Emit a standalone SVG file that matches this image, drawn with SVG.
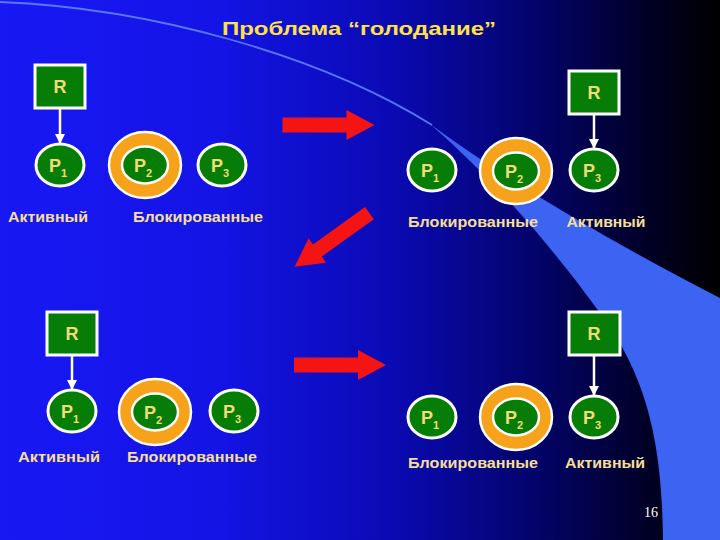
<svg xmlns="http://www.w3.org/2000/svg" width="720" height="540" viewBox="0 0 720 540">
<defs>
<linearGradient id="bg" x1="0" y1="0" x2="1" y2="0">
<stop offset="0" stop-color="#1818f4"/>
<stop offset="0.3" stop-color="#1414e6"/>
<stop offset="0.55" stop-color="#0a0ab2"/>
<stop offset="0.75" stop-color="#030368"/>
<stop offset="0.9" stop-color="#000026"/>
<stop offset="1" stop-color="#000000"/>
</linearGradient>
<marker id="ah" viewBox="0 0 10 10" refX="9" refY="5" markerWidth="4" markerHeight="4" orient="auto" markerUnits="strokeWidth">
<path d="M0,0 L10,5 L0,10 Z" fill="#ffffff"/>
</marker>
<polygon id="bigArrow" points="-46,-7.5 18,-7.5 18,-15 46,0 18,15 18,7.5 -46,7.5"/>
</defs>
<style>
.box{fill:#067d06;stroke:#ffffff;stroke-width:3}
.proc{fill:#067d06;stroke:#ffffff;stroke-width:3}
.ring{fill:#f7a21b;stroke:#ffffff;stroke-width:2.5}
.inner{fill:#067d06;stroke:#ffffff;stroke-width:2.5}
.nt{font-family:"Liberation Sans",Arial,sans-serif;font-weight:bold;font-size:18px;fill:#f0dc78;text-anchor:middle}
.sub{font-size:11px}
.lbl{font-family:"Liberation Sans",Arial,sans-serif;font-weight:bold;font-size:14px;fill:#f5df96;text-anchor:middle}
.title{font-family:"Liberation Sans",Arial,sans-serif;font-weight:bold;font-size:19px;fill:#ffe14a;text-anchor:middle}
.conn{stroke:#ffffff;stroke-width:2.5;fill:none;marker-end:url(#ah)}
.red{fill:#f41414}
</style>
<rect x="0" y="0" width="720" height="540" fill="url(#bg)"/>
<path d="M0,2 C150,8 320,55 432,125" fill="none" stroke="#6688ff" stroke-width="1.8" opacity="0.85"/>
<path d="M430,124 Q545,208 720,298 L720,540 L663,540 C662,450 650,380 600,313 C565,265 508,192 430,124 Z" fill="#3d63f2"/>
<text class="title" x="359" y="35" textLength="274" lengthAdjust="spacingAndGlyphs">Проблема “голодание”</text>

<g id="transitions">
<use href="#bigArrow" class="red" transform="translate(328.5,125)"/>
<use href="#bigArrow" class="red" transform="translate(332,240) rotate(144.4)"/>
<use href="#bigArrow" class="red" transform="translate(340,365)"/>
</g>

<g id="connectors">
<line class="conn" x1="60" y1="108" x2="60" y2="143"/>
<line class="conn" x1="594" y1="115" x2="594" y2="148"/>
<line class="conn" x1="72" y1="355" x2="72" y2="389"/>
<line class="conn" x1="594" y1="355" x2="594" y2="395"/>
</g>

<!-- Top-left state -->
<g id="tl-R"><rect class="box" x="35" y="65" width="50" height="43"/><text class="nt" x="60" y="93">R</text></g>
<g id="tl-P1"><ellipse class="proc" cx="60" cy="165" rx="24" ry="21"/><text class="nt" x="58" y="172">P<tspan class="sub" dy="5">1</tspan></text></g>
<g id="tl-P2"><ellipse class="ring" cx="145" cy="165" rx="36" ry="33"/><ellipse class="inner" cx="145" cy="165" rx="23" ry="18.5"/><text class="nt" x="143" y="172">P<tspan class="sub" dy="5">2</tspan></text></g>
<g id="tl-P3"><ellipse class="proc" cx="222" cy="165" rx="24" ry="21"/><text class="nt" x="220" y="172">P<tspan class="sub" dy="5">3</tspan></text></g>
<g id="tl-labels"><text class="lbl" x="48" y="222" textLength="80" lengthAdjust="spacingAndGlyphs">Активный</text><text class="lbl" x="198" y="222" textLength="130" lengthAdjust="spacingAndGlyphs">Блокированные</text></g>

<!-- Top-right state -->
<g id="tr-R"><rect class="box" x="569" y="71" width="50" height="43"/><text class="nt" x="594" y="99">R</text></g>
<g id="tr-P1"><ellipse class="proc" cx="432" cy="170" rx="24" ry="21"/><text class="nt" x="430" y="177">P<tspan class="sub" dy="5">1</tspan></text></g>
<g id="tr-P2"><ellipse class="ring" cx="516" cy="171" rx="36" ry="33"/><ellipse class="inner" cx="516" cy="171" rx="23" ry="18.5"/><text class="nt" x="514" y="178">P<tspan class="sub" dy="5">2</tspan></text></g>
<g id="tr-P3"><ellipse class="proc" cx="594" cy="170" rx="24" ry="21"/><text class="nt" x="592" y="177">P<tspan class="sub" dy="5">3</tspan></text></g>
<g id="tr-labels"><text class="lbl" x="473" y="227" textLength="130" lengthAdjust="spacingAndGlyphs">Блокированные</text><text class="lbl" x="606" y="227" textLength="79" lengthAdjust="spacingAndGlyphs">Активный</text></g>

<!-- Bottom-left state -->
<g id="bl-R"><rect class="box" x="47" y="312" width="50" height="43"/><text class="nt" x="72" y="340">R</text></g>
<g id="bl-P1"><ellipse class="proc" cx="72" cy="411" rx="24" ry="21"/><text class="nt" x="70" y="418">P<tspan class="sub" dy="5">1</tspan></text></g>
<g id="bl-P2"><ellipse class="ring" cx="155" cy="412" rx="36" ry="33"/><ellipse class="inner" cx="155" cy="412" rx="23" ry="18.5"/><text class="nt" x="153" y="419">P<tspan class="sub" dy="5">2</tspan></text></g>
<g id="bl-P3"><ellipse class="proc" cx="234" cy="411" rx="24" ry="21"/><text class="nt" x="232" y="418">P<tspan class="sub" dy="5">3</tspan></text></g>
<g id="bl-labels"><text class="lbl" x="59" y="462" textLength="82" lengthAdjust="spacingAndGlyphs">Активный</text><text class="lbl" x="192" y="462" textLength="130" lengthAdjust="spacingAndGlyphs">Блокированные</text></g>

<!-- Bottom-right state -->
<g id="br-R"><rect class="box" x="569" y="312" width="51" height="43"/><text class="nt" x="594" y="340">R</text></g>
<g id="br-P1"><ellipse class="proc" cx="432" cy="417" rx="24" ry="21"/><text class="nt" x="430" y="424">P<tspan class="sub" dy="5">1</tspan></text></g>
<g id="br-P2"><ellipse class="ring" cx="516" cy="417" rx="36" ry="33"/><ellipse class="inner" cx="516" cy="417" rx="23" ry="18.5"/><text class="nt" x="514" y="424">P<tspan class="sub" dy="5">2</tspan></text></g>
<g id="br-P3"><ellipse class="proc" cx="594" cy="417" rx="24" ry="21"/><text class="nt" x="592" y="424">P<tspan class="sub" dy="5">3</tspan></text></g>
<g id="br-labels"><text class="lbl" x="473" y="468" textLength="130" lengthAdjust="spacingAndGlyphs">Блокированные</text><text class="lbl" x="605" y="468" textLength="80" lengthAdjust="spacingAndGlyphs">Активный</text></g>

<text x="651" y="517" font-family="Liberation Serif,serif" font-size="14" fill="#ffffff" text-anchor="middle">16</text>
</svg>
